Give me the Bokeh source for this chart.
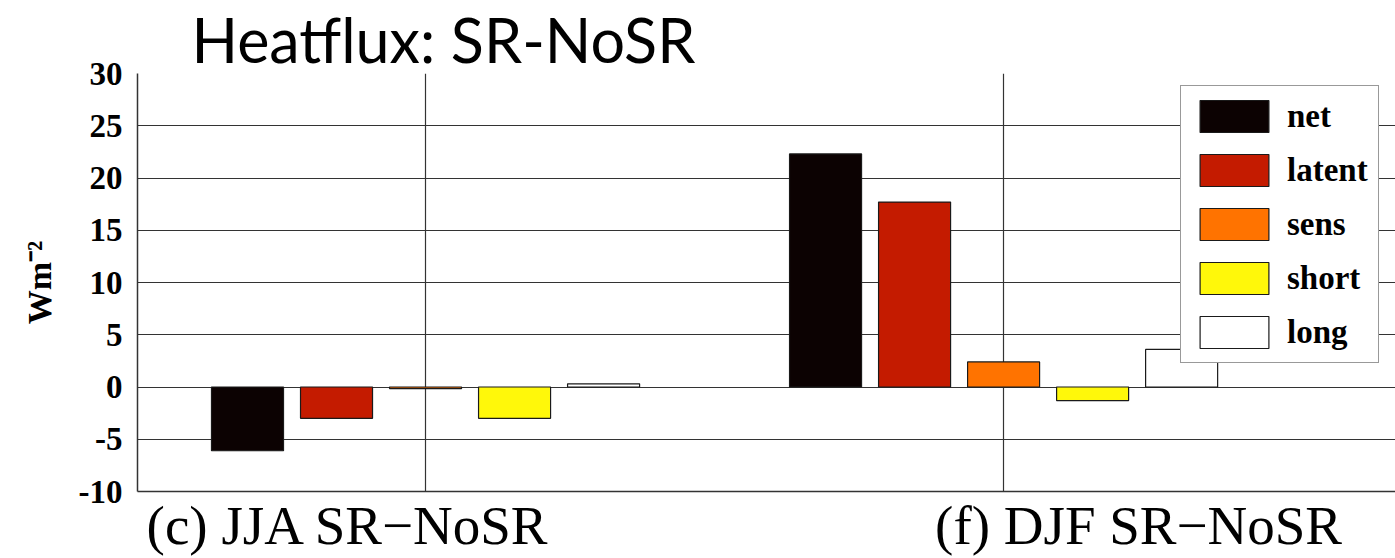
from bokeh.plotting import figure
from bokeh.models import Range1d, FixedTicker, Legend
from bokeh.embed import file_html
from bokeh.resources import INLINE

# ---- data ----
groups = ["(c) JJA SR\u2212NoSR", "(f) DJF SR\u2212NoSR"]
series = ["net", "latent", "sens", "short", "long"]
net = [-6.1, 22.3]
latent = [-3.0, 17.7]
sens = [-0.15, 2.4]
short = [-3.0, -1.3]
long_ = [0.3, 3.6]
colors = ["#0c0202", "#c41b00", "#ff7300", "#fff80a", "#ffffff"]
y_ticks = [-10, -5, 0, 5, 10, 15, 20, 25, 30]
title_text = "Heatflux: SR-NoSR"

values = [net, latent, sens, short, long_]
group_x = [1, 2]
label_x = [0.8668, 2.2335]   # centres of the group captions
step = 0.154
bar_w = 0.1246

p = figure(width=1395, height=558, output_backend="svg", toolbar_location=None,
           x_range=Range1d(0.5017, 2.678), y_range=Range1d(-10, 30),
           min_border_left=137, min_border_right=0, min_border_top=73, min_border_bottom=66)
p.outline_line_color = None
p.background_fill_color = "white"

# title
p.title.text = title_text
p.title.text_font = "Lato"
p.title.text_font_style = "normal"
p.title.text_font_size = "61px"
p.title.text_color = "black"
p.title.align = "left"
p.title.offset = 54
p.title.standoff = -4

renderers = []
for i, (name, vals, col) in enumerate(zip(series, values, colors)):
    xs = [g + (i - 2) * step for g in group_x]
    r = p.vbar(x=xs, top=vals, bottom=0, width=bar_w, fill_color=col,
               line_color="#1a1a1a", line_width=1.2)
    renderers.append((name, [r]))

# x axis carries the group captions
p.xaxis.ticker = FixedTicker(ticks=label_x)
p.xaxis.major_label_overrides = {label_x[0]: groups[0], label_x[1]: groups[1]}
p.xaxis.major_label_text_font = "Liberation Serif"
p.xaxis.major_label_text_font_size = "55px"
p.xaxis.major_label_text_color = "black"
p.xaxis.major_label_standoff = -3
p.xaxis.major_tick_line_color = None
p.xaxis.minor_tick_line_color = None
p.xaxis.axis_line_color = "#333333"
p.xaxis.axis_line_width = 1.5
p.xgrid.ticker = FixedTicker(ticks=group_x)

p.yaxis.ticker = FixedTicker(ticks=y_ticks)
p.yaxis.major_label_overrides = {t: str(t) for t in y_ticks}
p.yaxis.major_tick_line_color = None
p.yaxis.minor_tick_line_color = None
p.yaxis.axis_line_color = "#333333"
p.yaxis.axis_line_width = 1.5
p.yaxis.major_label_text_font = "Liberation Serif"
p.yaxis.major_label_text_font_style = "bold"
p.yaxis.major_label_text_font_size = "33px"
p.yaxis.major_label_text_color = "black"
p.yaxis.major_label_standoff = 9
p.yaxis.axis_label = "Wm\u207b\u00b2"
p.yaxis.axis_label_text_font = "Liberation Serif"
p.yaxis.axis_label_text_font_style = "bold"
p.yaxis.axis_label_text_font_size = "34px"
p.yaxis.axis_label_text_color = "black"
p.yaxis.axis_label_standoff = 18

p.xgrid.grid_line_color = "#333333"
p.xgrid.grid_line_width = 1.2
p.ygrid.grid_line_color = "#333333"
p.ygrid.grid_line_width = 1.2

# legend
legend = Legend(items=renderers, location=(1043, 128))
legend.glyph_width = 86
legend.glyph_height = 40
legend.spacing = 14
legend.padding = 10
legend.margin = 0
legend.label_standoff = 10
legend.label_text_font = "Liberation Serif"
legend.label_text_font_style = "bold"
legend.label_text_font_size = "33px"
legend.label_text_color = "black"
legend.border_line_color = "#333333"
legend.border_line_width = 1.5
legend.background_fill_alpha = 1
p.add_layout(legend, "center")

open("out.html", "w").write(file_html(p, INLINE))
